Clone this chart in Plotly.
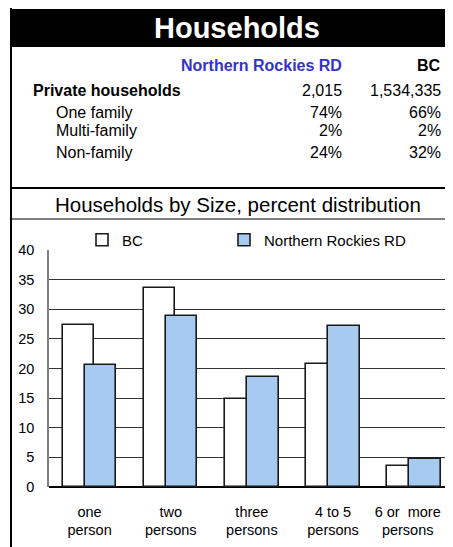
import plotly.graph_objects as go

# ---- data ----
categories = ["one<br>person", "two<br>persons", "three<br>persons", "4 to 5<br>persons", "6 or\u00a0 more<br>persons"]
bc_values = [27.3, 33.6, 14.9, 20.8, 3.6]
nr_values = [20.6, 28.8, 18.6, 27.2, 4.75]
series_names = ["BC", "Northern Rockies RD"]

table_header = ["Northern Rockies RD", "BC"]
table_rows = ["Private households", "One family", "Multi-family", "Non-family"]
table_nr = ["2,015", "74%", "2%", "24%"]
table_bc = ["1,534,335", "66%", "2%", "32%"]
y_ticks = [0, 5, 10, 15, 20, 25, 30, 35, 40]

# page has an 8px body margin: figure origin sits at page (8, 8)
OFF = 8
W, H = 445, 539
L, R, T, B = 41, 0, 242, 60
PW, PH = W - L - R, H - T - B

def px(x):  # page pixel x -> paper
    return (x - OFF - L) / PW

def py(y):  # page pixel y -> paper
    return (H - B - (y - OFF)) / PH

FONT = "Liberation Sans, Arial, sans-serif"

fig = go.Figure()
xs = list(range(len(categories)))
fig.add_trace(go.Bar(
    x=xs, y=bc_values, name=series_names[0], legend="legend",
    marker=dict(color="white", line=dict(color="#1a1a1a", width=1.6)),
    width=0.385, offset=-0.33,
))
fig.add_trace(go.Bar(
    x=xs, y=nr_values, name=series_names[1], legend="legend2",
    marker=dict(color="#a6caf0", line=dict(color="#1a1a1a", width=1.6)),
    width=0.39, offset=-0.062,
))

# label positions: last label nudged left so it stays inside the page
tick_pos = [x if x < len(xs) - 1 else x - 0.08 for x in xs]

shapes = []
shapes.append(dict(type="rect", xref="paper", yref="paper",
                   x0=px(11), x1=px(455), y0=py(47), y1=py(9),
                   fillcolor="black", line=dict(width=0), layer="below"))
shapes.append(dict(type="line", xref="paper", yref="paper",
                   x0=px(11), x1=px(11), y0=py(560), y1=py(7),
                   line=dict(color="black", width=2)))
shapes.append(dict(type="line", xref="paper", yref="paper",
                   x0=px(11), x1=px(455), y0=py(188), y1=py(188),
                   line=dict(color="black", width=2)))
shapes.append(dict(type="line", xref="paper", yref="paper",
                   x0=px(11), x1=px(455), y0=py(219), y1=py(219),
                   line=dict(color="black", width=1.2)))

ann = []
ann.append(dict(text="<b>Households</b>", x=px(237), y=py(28), xref="paper", yref="paper",
                showarrow=False, xanchor="center", yanchor="middle",
                font=dict(family=FONT, size=29, color="white")))
ann.append(dict(text="<b>%s</b>" % table_header[0], x=px(344), y=py(66), xref="paper", yref="paper",
                showarrow=False, xanchor="right", yanchor="middle",
                font=dict(family=FONT, size=16, color="#3333cc")))
ann.append(dict(text="<b>%s</b>" % table_header[1], x=px(443), y=py(66), xref="paper", yref="paper",
                showarrow=False, xanchor="right", yanchor="middle",
                font=dict(family=FONT, size=16, color="black")))
row_y = [90, 112, 131, 153]
row_x = [31, 54, 54, 54]
for i, lab in enumerate(table_rows):
    txt = "<b>%s</b>" % lab if i == 0 else lab
    ann.append(dict(text=txt, x=px(row_x[i]), y=py(row_y[i]), xref="paper", yref="paper",
                    showarrow=False, xanchor="left", yanchor="middle",
                    font=dict(family=FONT, size=16, color="black")))
    ann.append(dict(text=table_nr[i], x=px(344), y=py(row_y[i]), xref="paper", yref="paper",
                    showarrow=False, xanchor="right", yanchor="middle",
                    font=dict(family=FONT, size=16, color="black")))
    ann.append(dict(text=table_bc[i], x=px(443), y=py(row_y[i]), xref="paper", yref="paper",
                    showarrow=False, xanchor="right", yanchor="middle",
                    font=dict(family=FONT, size=16, color="black")))
ann.append(dict(text="Households by Size, percent distribution", x=px(238), y=py(204),
                xref="paper", yref="paper", showarrow=False, xanchor="center", yanchor="middle",
                font=dict(family=FONT, size=20.5, color="black")))

leg_common = dict(orientation="h", yanchor="middle", xanchor="left",
                  font=dict(family=FONT, size=15, color="black"),
                  itemwidth=30, bgcolor="rgba(0,0,0,0)", borderwidth=0)

fig.update_layout(
    width=W, height=H,
    margin=dict(l=L, r=R, t=T, b=B, pad=0, autoexpand=False),
    paper_bgcolor="white", plot_bgcolor="white",
    barmode="overlay", bargap=0,
    font=dict(family=FONT, size=14, color="black"),
    shapes=shapes, annotations=ann,
    showlegend=True,
    legend=dict(x=px(82), y=py(240), **leg_common),
    legend2=dict(x=px(224), y=py(240), **leg_common),
    xaxis=dict(tickmode="array", tickvals=tick_pos, ticktext=categories,
               range=[-0.5, 4.478], showgrid=False, zeroline=False,
               showline=False, ticks="", tickfont=dict(size=14.5),
               ticklabelstandoff=14, automargin=False),
    yaxis=dict(range=[0, 40], tickvals=y_ticks, showgrid=True,
               gridcolor="#333333", gridwidth=1, zeroline=True,
               zerolinecolor="black", zerolinewidth=1.5,
               showline=True, linecolor="#808080", linewidth=1.5,
               ticks="", ticklabelstandoff=10, tickfont=dict(size=14.5),
               automargin=False),
)

fig.write_html("out.html")
